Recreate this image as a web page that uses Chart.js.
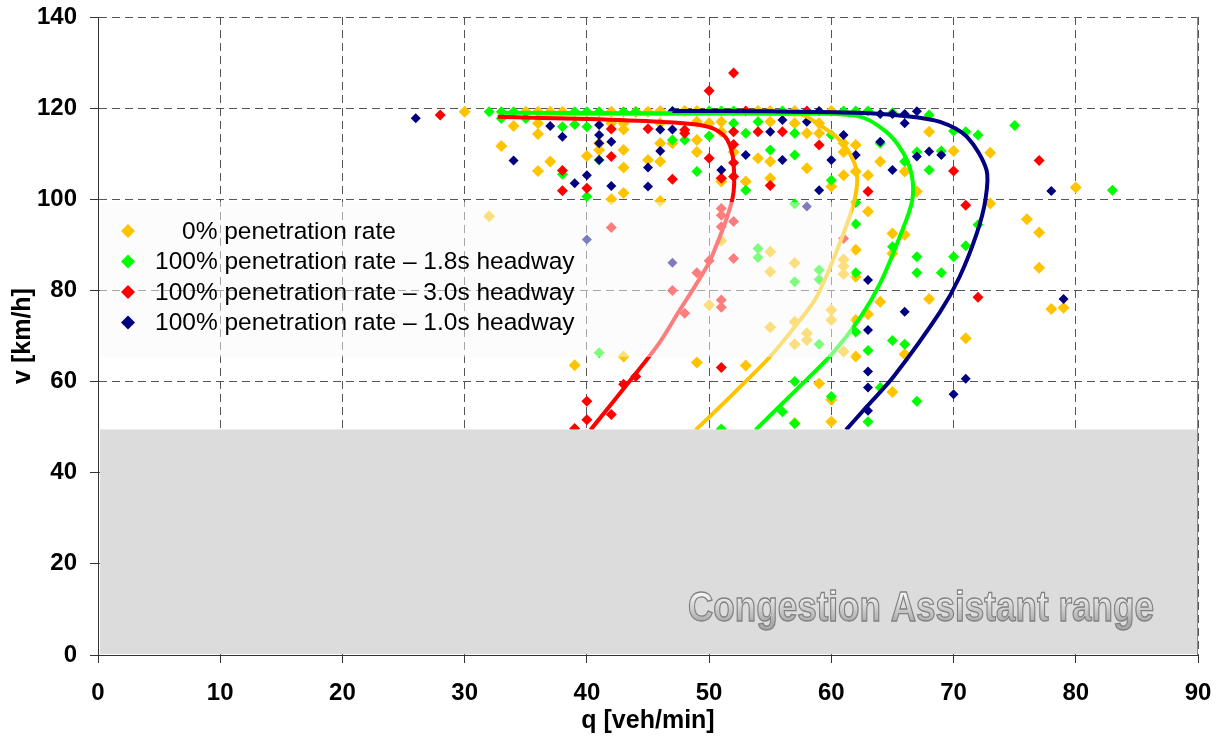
<!DOCTYPE html>
<html>
<head>
<meta charset="utf-8">
<script src="https://cdn.jsdelivr.net/npm/chart.js"></script>
<style>
  html, body { margin: 0; padding: 0; background: #fff; }
  #wrap { width: 1223px; height: 738px; }
</style>
</head>
<body>
<div id="wrap"><canvas id="myChart"></canvas></div>
<script>
// q [veh/min], v [km/h]
const xTicks = [0, 10, 20, 30, 40, 50, 60, 70, 80, 90];
const yTicks = [0, 20, 40, 60, 80, 100, 120, 140];

const legendLabels = [
  '0% penetration rate',
  '100% penetration rate \u2013 1.8s headway',
  '100% penetration rate \u2013 3.0s headway',
  '100% penetration rate \u2013 1.0s headway'
];
const seriesColors = ['#FFC400', '#00FF00', '#FF0000', '#000080'];

const caLabel = 'Congestion Assistant range';
const caRange = [0, 49.5];

const yellowPts = [
  [30,119.2],[35,119.2],[36,119.2],[37,119.2],[38,119.2],[42,119.2],[44,119.2],[45,119.2],[46,119.4],[48,119.4],
  [49,119.4],[54,119.4],[55,119.4],[57,119.4],[60,119.4],
  [34,116.1],[36,116.7],[42,116.7],[43,116.7],[46,116.7],[49,117.0],[50,116.7],[51,117.0],[55,117.0],[57,116.7],[59,116.7],
  [36,114.3],[43,115.3],[46,112.3],[47,112.3],[49,113.0],[51,114.8],[58,114.5],[59,114.5],[61,112.3],[62,111.9],[41,112.3],
  [33,111.7],[40,109.5],[41,110.8],[43,110.8],[46,108.3],[49,110.4],[51,104.6],[51,103.9],[52,110.4],[54,109.0],[55,108.3],
  [58,106.8],[61,110.4],[63,105.3],[64,108.3],[66,106.1],[37,108.3],[36,106.2],[43,107.0],[45,108.6],
  [42,100.0],[43,101.4],[46,99.6],[53,103.9],[55,104.6],[60,102.8],[61,105.3],[62,106.1],[67,101.7],
  [32,96.3],[51,90.9],[50,76.8],[39,63.6],[43,65.5],[49,64.2],[53,63.5],[59,59.6],[60,56.0],[60,51.2],[57,50.9],
  [55,88.5],[57,86.0],[55,84.1],[61,86.8],[61,85.3],[61,83.6],[60,75.7],[60,73.5],[57,73.1],[58,70.6],[58,69.1],
  [57,68.2],[61,66.6],[55,71.9],[62,88.9],[62,83.0],[62,73.5],[62,65.5],[63,97.3],[63,74.8],[64,77.5],[65,92.5],
  [66,92.2],[65,88.1],[65,57.7],[68,78.1],[68,114.8],[70,110.6],[73,110.2],[73,99.1],[76,95.6],[77,92.7],[77,85.0],
  [78,75.9],[79,76.2],[80,102.6],[71,69.5],[66,66.0]
];
const greenPts = [
  [32,119.2],[33,119.2],[34,119.2],[39,119.2],[40,119.2],[41,119.2],[43,119.2],[44,119.2],[50,119.4],[51,119.4],
  [52,119.4],[56,119.4],[61,119.4],[62,119.4],[63,119.4],[68,118.5],[65,119.0],
  [33,117.7],[35,117.7],[38,115.9],[39,116.4],[40,115.9],[52,116.7],[54,117.0],
  [48,113.0],[50,113.9],[53,114.5],[57,114.5],[60,114.1],[64,112.3],[47,113.0],
  [38,105.5],[41,108.6],[55,110.8],[57,109.7],[66,108.3],[67,110.4],[68,106.4],[69,110.6],[49,106.1],
  [40,100.6],[53,102.0],[60,104.2],
  [70,115.0],[71,114.8],[72,114.1],[75,116.2],[83,102.0],[72,94.4],[71,89.8],[70,87.4],[69,83.9],
  [62,99.3],[62,94.6],[62,83.9],[62,70.9],[63,66.8],[63,51.2],[65,89.6],[65,69.0],[66,68.2],[67,87.4],[67,83.9],
  [67,55.7],[64,58.7],[60,56.7],[57,60.0],[56,53.4],[57,50.8],[51,49.6],[54,89.2],[54,87.2],[57,81.9],[59,84.5],
  [59,82.4],[59,68.2],[57,99.0],[41,66.3]
];
const redPts = [
  [28,118.5],[38,106.3],[38,101.9],[40,102.4],[42,109.4],[42,115.4],[45,115.5],[47,104.4],[48,115.2],[50,109.0],
  [52,114.8],[53,119.4],[54,114.8],[56,114.8],[58,119.4],[59,111.9],[48,114.5],[51,104.6],[63,101.7],[70,106.2],
  [71,98.7],[72,78.5],[77,108.5],[50,123.8],[52,127.7],[52,112.0],[52,108.0],[52,105.0],[51,98.0],[51,96.5],
  [52,95.1],[51,94.0],[52,87.0],[51,77.9],[51,76.3],[50,86.5],[49,83.9],[48,75.0],[61,91.4],[51,63.1],[40,55.7],
  [40,51.6],[39,49.7],[42,52.8],[43,59.4],[44,61.1],[42,93.8],[55,103.0],[47,80.0]
];
const navyPts = [
  [26,117.8],[34,108.5],[37,116.1],[38,113.7],[39,103.5],[40,105.3],[41,116.3],[41,114.1],[41,112.3],[41,108.6],
  [42,112.6],[42,102.9],[45,107.0],[45,102.8],[46,115.3],[46,110.6],[47,119.4],[47,115.3],[51,106.4],[53,109.7],
  [55,114.8],[56,117.4],[56,108.6],[58,117.0],[59,119.4],[59,102.0],[60,108.6],[61,114.1],[62,109.7],[64,118.7],
  [65,118.7],[66,118.7],[66,116.7],[67,119.3],[64,112.6],[65,106.4],[67,109.4],[69,109.7],[68,110.5],[40,91.2],
  [47,86.1],[58,98.4],[63,82.3],[66,75.3],[63,71.3],[63,62.2],[63,58.7],[63,53.6],[70,57.2],[71,60.6],[78,101.8],
  [79,78.1]
];

// fitted curves
const fitYellow = [[36,118.6],[45,118.7],[57.5,118.6],[58.8,116.7],[60.4,113.7],[61.5,110.1],[62.1,105.7],[61.9,99.9],
  [60.8,91.1],[58.8,78.6],[57.0,72.0],[55.0,65.5],[53.1,60.3],[50.9,54.5],[48.9,49.4]];
const fitGreen = [[33,119.0],[45,118.9],[55,118.8],[62.1,118.3],[64.5,114.8],[65.9,110.1],[66.6,105.0],[66.6,99.5],
  [65.6,91.8],[64.0,81.6],[62.4,74.2],[60.1,66.2],[57.4,58.9],[53.8,49.4]];
const fitRed = [[32.7,118.1],[40,117.6],[46,117.0],[49,116.4],[50.5,115.3],[51.5,113.0],[52,108.0],[51.9,100.0],
  [50.2,87.3],[49.0,81.6],[47.6,75.7],[45.9,68.4],[43.8,61.1],[40.3,49.4]];
const fitNavy = [[47,119.4],[55,119.3],[62,119.0],[66,118.3],[68.9,117.0],[71.1,113.7],[72.7,106.4],[72.6,99.8],
  [71.9,92.5],[70.5,83.0],[68.9,75.3],[65.1,61.1],[62.9,54.5],[61.2,49.4]];

const toXY = arr => arr.map(p => ({ x: p[0], y: p[1] }));
const FONT = '"Liberation Sans", Arial, Helvetica, sans-serif';

function fitSet(pts, color) {
  return { data: toXY(pts), showLine: true, borderColor: color, borderWidth: 4, pointRadius: 0,
           tension: 0.3, fill: false };
}
function pointSet(pts, color, r) {
  return { data: toXY(pts), pointStyle: 'rectRot', pointRadius: r, pointHoverRadius: r,
           pointBorderWidth: 0, backgroundColor: color, borderColor: color, showLine: false };
}

const overlays = {
  id: 'overlays',
  afterDatasetsDraw(chart) {
    const { ctx, chartArea: a, scales: { x, y } } = chart;
    ctx.save();

    // translucent legend panel over the plot
    const lx0 = a.left + 2, lx1 = x.getPixelForValue(61.7);
    const ly0 = y.getPixelForValue(99.4), ly1 = y.getPixelForValue(65.4);
    ctx.fillStyle = 'rgba(250,250,250,0.5)';
    ctx.fillRect(lx0, ly0, lx1 - lx0, ly1 - ly0);
    ctx.font = '24.5px ' + FONT;
    ctx.textBaseline = 'middle';
    ctx.textAlign = 'left';
    legendLabels.forEach((lab, i) => {
      const cy = ly0 + 29 + i * 30.5, cx = lx0 + 28, r = 7;
      ctx.beginPath();
      ctx.moveTo(cx - r, cy); ctx.lineTo(cx, cy - r); ctx.lineTo(cx + r, cy); ctx.lineTo(cx, cy + r);
      ctx.closePath();
      ctx.fillStyle = seriesColors[i];
      ctx.fill();
      ctx.fillStyle = '#000';
      ctx.fillText(lab, lx0 + 55 + (i === 0 ? 27 : 0), cy + 1);
    });

    // congestion assistant band
    const gy0 = y.getPixelForValue(caRange[1]), gy1 = y.getPixelForValue(caRange[0]);
    ctx.fillStyle = '#dcdcdc';
    ctx.fillRect(a.left + 2, gy0, a.right - a.left - 2, gy1 - gy0 - 1);

    ctx.font = 'bold 42px ' + FONT;
    const w = ctx.measureText(caLabel).width;
    ctx.save();
    ctx.translate(a.right - 44 - 466, gy1 - 34);
    ctx.scale(466 / w, 1);
    const grad = ctx.createLinearGradient(0, -31, 0, 2);
    grad.addColorStop(0, '#ffffff');
    grad.addColorStop(1, '#a8a8a8');
    ctx.textBaseline = 'alphabetic';
    ctx.fillStyle = grad;
    ctx.fillText(caLabel, 0, 0);
    ctx.lineWidth = 1.3;
    ctx.strokeStyle = '#808080';
    ctx.strokeText(caLabel, 0, 0);
    ctx.restore();

    // right frame edge
    ctx.strokeStyle = '#8a8a8a';
    ctx.lineWidth = 1;
    ctx.beginPath();
    ctx.moveTo(Math.round(a.right) - 0.5, a.top);
    ctx.lineTo(Math.round(a.right) - 0.5, a.bottom);
    ctx.stroke();
    ctx.restore();
  }
};

const tickFont = { family: FONT, size: 24, weight: 'bold' };
const titleFont = { family: FONT, size: 25, weight: 'bold' };

new Chart(document.getElementById('myChart'), {
  type: 'scatter',
  data: {
    datasets: [
      fitSet(fitRed, seriesColors[2]),
      fitSet(fitNavy, seriesColors[3]),
      fitSet(fitGreen, seriesColors[1]),
      fitSet(fitYellow, seriesColors[0]),
      pointSet(navyPts, seriesColors[3], 5),
      pointSet(redPts, seriesColors[2], 5.5),
      pointSet(greenPts, seriesColors[1], 5.5),
      pointSet(yellowPts, seriesColors[0], 6)
    ]
  },
  options: {
    responsive: true,
    maintainAspectRatio: false,
    animation: false,
    layout: { padding: { top: 17, right: 25, bottom: 0, left: 0 } },
    plugins: { legend: { display: false }, tooltip: { enabled: false } },
    scales: {
      x: {
        type: 'linear', min: 0, max: 90,
        afterBuildTicks: s => { s.ticks = xTicks.map(v => ({ value: v })); },
        afterFit: s => { s.height = 83; s.paddingLeft = 0; s.paddingRight = 0; },
        ticks: { font: tickFont, color: '#000', padding: 16 },
        grid: { color: '#555', tickLength: 8, tickColor: '#333' },
        border: { color: '#333', width: 1, dash: [8, 5] },
        title: { display: true, text: 'q [veh/min]', font: titleFont, color: '#000', padding: { top: 0, bottom: 2 } }
      },
      y: {
        type: 'linear', min: 0, max: 140,
        afterBuildTicks: s => { s.ticks = yTicks.map(v => ({ value: v })); },
        afterFit: s => { s.width = 98; s.paddingTop = 0; s.paddingBottom = 0; },
        ticks: { font: tickFont, color: '#000', padding: 13 },
        grid: { color: '#555', tickLength: 8, tickColor: '#333' },
        border: { color: '#333', width: 1, dash: [8, 5] },
        title: { display: true, text: 'v [km/h]', font: titleFont, color: '#000', padding: { top: 8, bottom: 0 } }
      }
    }
  },
  plugins: [overlays]
});
</script>
</body>
</html>
